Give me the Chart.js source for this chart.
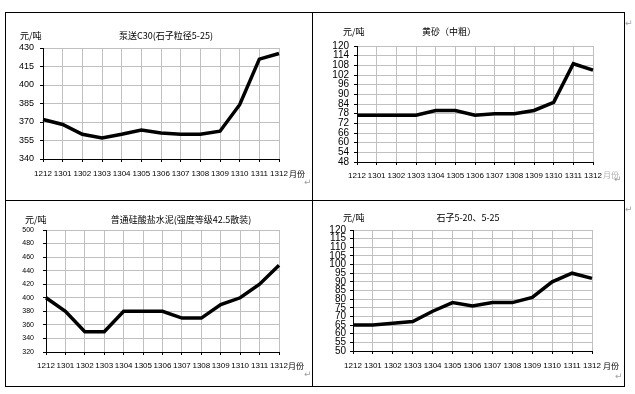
<!DOCTYPE html>
<html>
<head>
<meta charset="utf-8">
<script src="https://cdn.jsdelivr.net/npm/chart.js@4/dist/chart.umd.min.js"></script>
<style>
    body { margin: 0; background: #fff; width: 635px; height: 394px; position: relative; overflow: hidden; }
    .box { position: absolute; }
    .line { position: absolute; background: #000; }
    .mark { position: absolute; color: #a0a0a0; font: 9px "DejaVu Sans"; line-height: 9px; }
</style>
</head>
<body>
<!-- table borders -->
<div class="line" style="left:5px;top:12px;width:620px;height:1px"></div>
<div class="line" style="left:5px;top:200px;width:620px;height:1px"></div>
<div class="line" style="left:5px;top:386px;width:620px;height:1px"></div>
<div class="line" style="left:5px;top:12px;width:1px;height:375px"></div>
<div class="line" style="left:312px;top:12px;width:1px;height:375px"></div>
<div class="line" style="left:624px;top:12px;width:1px;height:375px"></div>

<div class="box" style="left:6px;top:13px"><canvas id="c1" width="306" height="187"></canvas></div>
<div class="box" style="left:313px;top:13px"><canvas id="c2" width="311" height="187"></canvas></div>
<div class="box" style="left:6px;top:201px"><canvas id="c3" width="306" height="185"></canvas></div>
<div class="box" style="left:313px;top:201px"><canvas id="c4" width="311" height="185"></canvas></div>

<span class="mark" style="left:304px;top:178px">↵</span>
<span class="mark" style="left:625px;top:19px">↵</span>
<span class="mark" style="left:614px;top:175px">↵</span>
<span class="mark" style="left:304px;top:370px">↵</span>
<span class="mark" style="left:625px;top:205px">↵</span>
<span class="mark" style="left:615px;top:372px">↵</span>

<script>
const months = ["1212", "1301", "1302", "1303", "1304", "1305", "1306", "1307", "1308", "1309", "1310", "1311", "1312"];
const unitY = "元/吨";
const unitX = "月份";

const titleConcrete = "泵送C30(石子粒径5-25)";
const concrete = [372, 368, 360, 357, 360, 363.5, 361, 360, 360, 362.5, 384, 421, 425.5];

const titleSand = "黄砂（中粗）";
const sand = [77, 77, 77, 77, 80, 80, 77, 78, 78, 80, 85, 109, 105];

const titleCement = "普通硅酸盐水泥(强度等级42.5散装)";
const cement = [400, 380, 350, 350, 380, 380, 380, 370, 370, 390, 400, 420, 448];

const titleStone = "石子5-20、5-25";
const stone = [65, 65, 66, 67, 73, 78, 76, 78, 78, 81, 90, 95, 92];

const tickFont = "'Liberation Sans', Arial, sans-serif";

// draws title, y unit and x unit text
const textPlugin = {
    id: "texts",
    afterDraw(chart, args, o) {
        const ctx = chart.ctx;
        ctx.save();
        ctx.textBaseline = "middle";
        ctx.fillStyle = "#000";
        ctx.font = "9px 'Noto Sans CJK SC'";
        ctx.textAlign = "center";
        ctx.fillText(o.title, o.titleX, o.titleY);
        ctx.textAlign = "left";
        ctx.fillText(unitY, o.unitX, o.titleY);
        ctx.font = "8px 'Noto Sans CJK SC'";
        ctx.fillStyle = o.monthColor || "#000";
        ctx.fillText(unitX, o.monthX, o.monthY);
        ctx.restore();
    }
};

function makeChart(id, values, opt) {
    return new Chart(document.getElementById(id), {
        type: "line",
        data: {
            labels: months,
            datasets: [{
                data: values,
                borderColor: "#000",
                borderWidth: 3.5,
                pointRadius: 0,
                tension: 0,
                clip: false
            }]
        },
        options: {
            responsive: false,
            animation: false,
            layout: { padding: { left: 0, top: opt.top, right: opt.right, bottom: 0 } },
            plugins: {
                legend: { display: false },
                tooltip: { enabled: false },
                texts: opt.texts
            },
            scales: {
                x: {
                    offset: false,
                    afterFit: s => { s.height = opt.bottom; },
                    border: { color: "#000" },
                    grid: { color: "#c0c0c0", tickColor: "#000", tickLength: 3, offset: false },
                    ticks: {
                        autoSkip: false, maxRotation: 0, padding: opt.xPad,
                        color: "#000", font: { family: tickFont, size: 8 }
                    }
                },
                y: {
                    min: opt.min, max: opt.max,
                    afterFit: s => { s.width = opt.left; },
                    border: { color: "#000" },
                    grid: { color: "#c0c0c0", tickColor: "#000", tickLength: 3 },
                    ticks: {
                        stepSize: opt.step, autoSkip: false, padding: opt.yPad,
                        color: "#000", font: { family: tickFont, size: opt.yFont }
                    }
                }
            }
        },
        plugins: [textPlugin]
    });
}

makeChart("c1", concrete, {
    min: 340, max: 430, step: 15, left: 37, top: 35, right: 33, bottom: 41, xPad: 7, yPad: 6, yFont: 9,
    texts: { title: titleConcrete, titleX: 160, titleY: 23, unitX: 14, monthX: 283, monthY: 161 }
});
makeChart("c2", sand, {
    min: 48, max: 120, step: 6, left: 44, top: 33, right: 31, bottom: 38, xPad: 6, yPad: 5, yFont: 10,
    texts: { title: titleSand, titleX: 136, titleY: 19, unitX: 30, monthX: 290, monthY: 162, monthColor: "#b0b0b0" }
});
makeChart("c3", cement, {
    min: 320, max: 500, step: 20, left: 40, top: 29, right: 33, bottom: 34, xPad: 6, yPad: 9, yFont: 7,
    texts: { title: titleCement, titleX: 175, titleY: 19, unitX: 19, monthX: 282, monthY: 165 }
});
makeChart("c4", stone, {
    min: 50, max: 120, step: 5, left: 40, top: 29, right: 32, bottom: 35, xPad: 7, yPad: 4, yFont: 10,
    texts: { title: titleStone, titleX: 155, titleY: 17, unitX: 30, monthX: 290, monthY: 165 }
});
</script>
</body>
</html>
